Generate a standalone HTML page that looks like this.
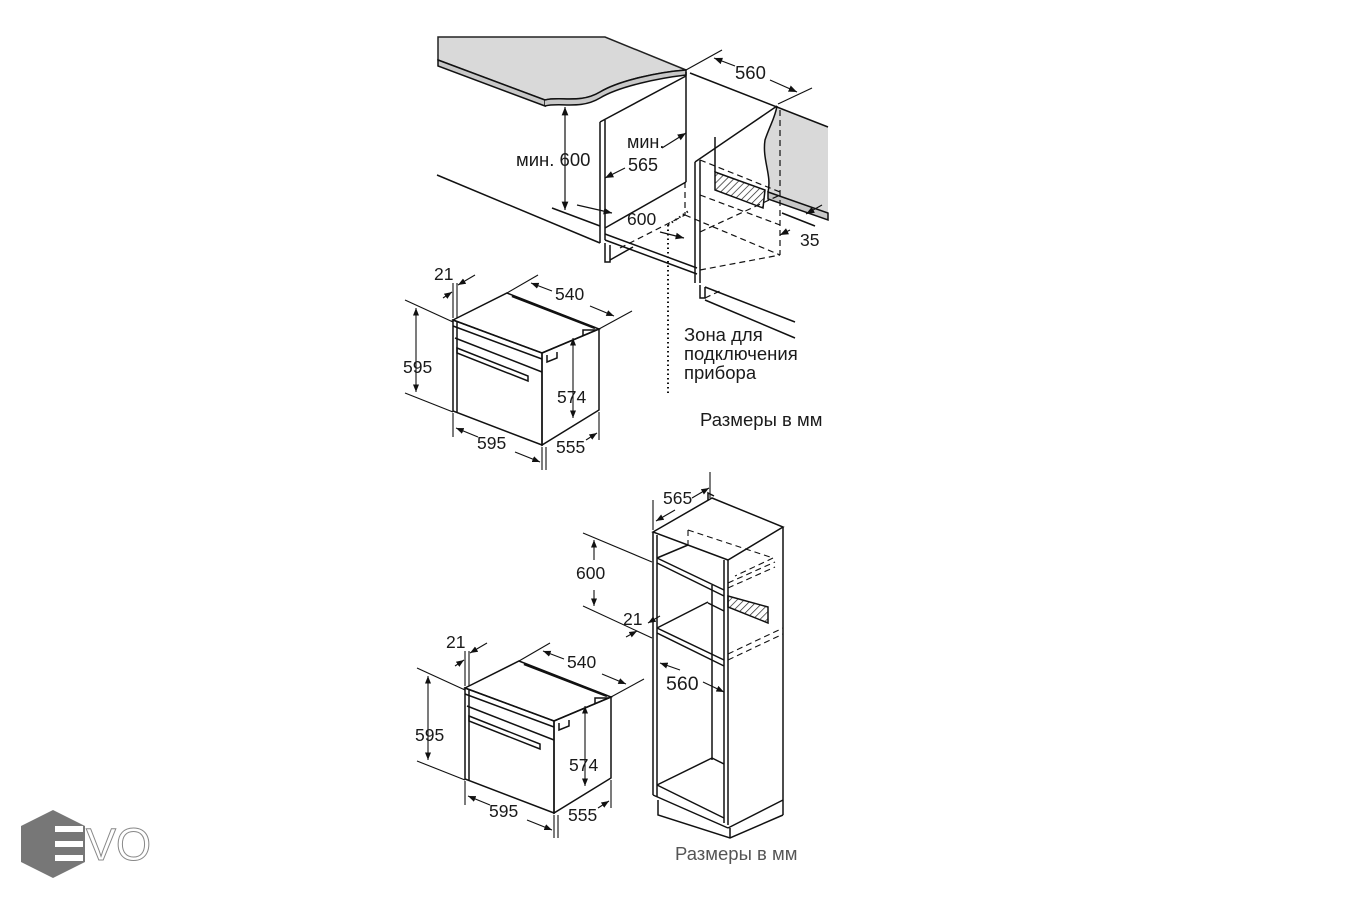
<!DOCTYPE html>
<html><head><meta charset="utf-8"><style>
html,body{margin:0;padding:0;background:#fff;}
svg{display:block;}
text{font-family:"Liberation Sans",sans-serif;fill:#1a1a1a;}
</style></head><body>
<svg width="1350" height="900" viewBox="0 0 1350 900" xmlns="http://www.w3.org/2000/svg">
<defs>
<marker id="a" viewBox="0 0 10 10" refX="10" refY="5" markerWidth="7" markerHeight="7" orient="auto-start-reverse"><path d="M0,1 L10,5 L0,9 z" fill="#111"/></marker>
<pattern id="h" width="5" height="5" patternUnits="userSpaceOnUse" patternTransform="rotate(45)"><line x1="0" y1="0" x2="0" y2="5" stroke="#222" stroke-width="1.4"/></pattern>
</defs>
<g stroke="#111" stroke-width="1.5" fill="none">
<path d="M438,37 L605,37 L686,70 C660,72 620,80 600,92 C580,104 560,96 545,100 L438,60 Z" fill="#d9d9d9" stroke="#222"/>
<path d="M438,60 L545,100 L545,106 L438,66 Z" fill="#c8c8c8"/>
<path d="M545,100 C560,96 580,104 600,92 C620,80 660,72 686,70 L686,75 C660,78 620,86 600,98 C580,110 560,102 545,106" fill="#c8c8c8"/>
<path d="M777,106 L828,127 L828,213 L768,192 C772,175 762,160 765,140 C770,125 775,118 777,106 Z" fill="#d9d9d9" stroke="none"/>
<path d="M768,192 L828,213 L828,220 L768,199 Z" fill="#c8c8c8"/>
<line x1="690" y1="73" x2="828" y2="127"/>
<path d="M777,106 C775,118 770,125 765,140 C762,160 772,175 768,192"/>
<line x1="600" y1="122" x2="600" y2="243"/><line x1="605" y1="120" x2="605" y2="240"/>
<line x1="600" y1="122" x2="686" y2="76"/>
<line x1="686" y1="72" x2="686" y2="182"/>
<line x1="605" y1="228" x2="686" y2="182"/>
<line x1="605" y1="234" x2="697" y2="268"/>
<line x1="605" y1="240" x2="697" y2="274"/>
<line x1="437" y1="175" x2="600" y2="243"/>
<line x1="552" y1="208" x2="600" y2="226"/>
<path d="M605,243 L605,262 L610,262 L610,245"/>
<line x1="610" y1="260" x2="633" y2="247"/>
<line x1="695" y1="162" x2="695" y2="283"/><line x1="700" y1="160" x2="700" y2="283"/>
<line x1="695" y1="162" x2="777" y2="106"/>
<line x1="715" y1="137" x2="715" y2="172"/>
<path d="M715,172 L765,190 L763,208 L715,190 Z" fill="url(#h)"/>
<path d="M700,285 L700,298 L705,298 L705,287"/>
<line x1="705" y1="287" x2="795" y2="322"/>
<line x1="705" y1="300" x2="795" y2="338"/>
<g stroke-dasharray="6,4" stroke-width="1.2">
<line x1="685" y1="182" x2="685" y2="215"/>
<line x1="780" y1="110" x2="780" y2="255"/>
<line x1="685" y1="215" x2="780" y2="255"/>
<line x1="700" y1="160" x2="780" y2="192"/>
<line x1="700" y1="195" x2="780" y2="225"/>
<line x1="620" y1="248" x2="685" y2="215"/>
<line x1="700" y1="232" x2="780" y2="195"/>
<line x1="700" y1="270" x2="780" y2="255"/>
<line x1="705" y1="298" x2="722" y2="290"/>
</g>
<line x1="668" y1="225" x2="668" y2="395" stroke-dasharray="1.5,3" stroke-width="2"/>
<line x1="668" y1="225" x2="690" y2="210" stroke-dasharray="1.5,3" stroke-width="2"/>
<line x1="565" y1="107" x2="565" y2="210" marker-start="url(#a)" marker-end="url(#a)" stroke-width="1.2"/>
<line x1="686" y1="70" x2="722" y2="50" stroke-width="1.2"/>
<line x1="778" y1="104" x2="812" y2="88" stroke-width="1.2"/>
<line x1="714" y1="58" x2="735" y2="66" marker-start="url(#a)" stroke-width="1.2"/>
<line x1="770" y1="80" x2="797" y2="92" marker-end="url(#a)" stroke-width="1.2"/>
<line x1="662" y1="148" x2="686" y2="133" marker-end="url(#a)" stroke-width="1.2"/>
<line x1="625" y1="168" x2="605" y2="178" marker-end="url(#a)" stroke-width="1.2"/>
<line x1="577" y1="205" x2="612" y2="213" marker-end="url(#a)" stroke-width="1.2"/>
<line x1="660" y1="232" x2="684" y2="238" marker-end="url(#a)" stroke-width="1.2"/>
<line x1="782" y1="213" x2="815" y2="226"/>
<line x1="780" y1="235" x2="790" y2="230" marker-start="url(#a)" stroke-width="1.2"/>
<line x1="822" y1="205" x2="806" y2="214" marker-end="url(#a)" stroke-width="1.2"/>
</g>
<text x="516" y="166" font-size="18.5">мин. 600</text>
<text x="627" y="148" font-size="18">мин.</text>
<text x="628" y="171" font-size="18">565</text>
<text x="627" y="225" font-size="17.5">600</text>
<text x="800" y="246" font-size="17.5">35</text>
<text x="735" y="79" font-size="18.5">560</text>
<text x="684" y="341" font-size="18.5">Зона для</text>
<text x="684" y="360" font-size="18.5">подключения</text>
<text x="684" y="379" font-size="18.5">прибора</text>
<text x="700" y="426" font-size="18.5">Размеры в мм</text>

<g id="oven">
<g stroke="#111" stroke-width="1.5" fill="none">
<path d="M453,320 L507,293 L599,329 L542,353 Z"/>
<path d="M542,353 L599,329 L599,410 L542,445 Z"/>
<path d="M453,320 L542,353 L542,445 L453,411 Z"/>
<line x1="457" y1="322" x2="457" y2="412"/>
<line x1="453" y1="326" x2="542" y2="359"/>
<line x1="455" y1="338" x2="542" y2="372"/>
<path d="M457,348 L528,376 L528,381 L457,353 Z"/>
<line x1="512" y1="296" x2="595" y2="328" stroke-width="2.5"/>
<path d="M547,355 L547,362 L557,358 L557,352"/>
<path d="M583,336 L583,330 L596,330"/>
</g>
<g stroke="#111" stroke-width="1.1" fill="none">
<line x1="453" y1="283" x2="453" y2="318"/><line x1="457" y1="283" x2="457" y2="318"/>
<line x1="443" y1="298" x2="452" y2="292" marker-end="url(#a)"/>
<line x1="475" y1="275" x2="458" y2="285" marker-end="url(#a)"/>
<line x1="405" y1="300" x2="453" y2="322"/><line x1="405" y1="393" x2="453" y2="412"/>
<line x1="416" y1="308" x2="416" y2="392" marker-start="url(#a)" marker-end="url(#a)"/>
<line x1="573" y1="338" x2="573" y2="418" marker-start="url(#a)" marker-end="url(#a)"/>
<line x1="507" y1="293" x2="538" y2="275"/><line x1="599" y1="329" x2="632" y2="311"/>
<line x1="531" y1="283" x2="552" y2="291" marker-start="url(#a)"/>
<line x1="590" y1="306" x2="614" y2="316" marker-end="url(#a)"/>
<line x1="453" y1="413" x2="453" y2="437"/><line x1="542" y1="447" x2="542" y2="470"/><line x1="546" y1="447" x2="546" y2="470"/>
<line x1="456" y1="428" x2="478" y2="437" marker-start="url(#a)"/>
<line x1="515" y1="452" x2="540" y2="462" marker-end="url(#a)"/>
<line x1="599" y1="412" x2="599" y2="440"/>
<line x1="586" y1="440" x2="597" y2="433" marker-end="url(#a)"/>
</g>
<text x="434" y="280" font-size="17.5">21</text>
<text x="555" y="300" font-size="17.5">540</text>
<text x="403" y="373" font-size="17.5">595</text>
<text x="557" y="403" font-size="17.5">574</text>
<text x="477" y="449" font-size="17.5">595</text>
<text x="556" y="453" font-size="17.5">555</text>
</g>
<use href="#oven" transform="translate(12,368)"/>

<g stroke="#111" stroke-width="1.5" fill="none">
<path d="M653,532 L712,498 L783,527 L728,560 Z"/>
<line x1="653" y1="532" x2="653" y2="795"/>
<line x1="657" y1="535" x2="657" y2="797"/>
<line x1="728" y1="560" x2="728" y2="825"/>
<line x1="724" y1="560" x2="724" y2="823"/>
<line x1="783" y1="527" x2="783" y2="815"/>
<line x1="653" y1="795" x2="728" y2="828"/>
<line x1="657" y1="785" x2="724" y2="818"/>
<line x1="728" y1="828" x2="783" y2="800"/>
<path d="M658,800 L658,815 L730,838 L783,815"/>
<line x1="730" y1="828" x2="730" y2="838"/>
<path d="M708,500 L708,493 L714,496"/>
<line x1="657" y1="558" x2="724" y2="590"/><line x1="657" y1="563" x2="724" y2="596"/>
<line x1="657" y1="558" x2="688" y2="545"/>
<line x1="657" y1="628" x2="724" y2="660"/><line x1="657" y1="633" x2="724" y2="666"/>
<line x1="657" y1="628" x2="708" y2="602"/>
<line x1="712" y1="585" x2="712" y2="760"/>
<line x1="708" y1="603" x2="724" y2="611"/>
<line x1="657" y1="785" x2="712" y2="758"/>
<line x1="712" y1="758" x2="724" y2="764"/>
<path d="M728,596 L768,607 L768,623 L728,607 Z" fill="url(#h)"/>
</g>
<g stroke="#111" stroke-width="1.1" fill="none" stroke-dasharray="6,4">
<line x1="688" y1="530" x2="773" y2="558"/>
<line x1="773" y1="558" x2="735" y2="576"/>
<line x1="688" y1="530" x2="688" y2="545"/>
<line x1="728" y1="583" x2="775" y2="562"/><line x1="728" y1="588" x2="775" y2="567"/>
<line x1="728" y1="654" x2="783" y2="628"/><line x1="728" y1="660" x2="783" y2="634"/>
</g>
<g stroke="#111" stroke-width="1.1" fill="none">
<line x1="653" y1="500" x2="653" y2="530"/><line x1="710" y1="472" x2="710" y2="498"/>
<line x1="675" y1="510" x2="656" y2="521" marker-end="url(#a)"/>
<line x1="692" y1="498" x2="709" y2="488" marker-end="url(#a)"/>
<line x1="583" y1="533" x2="652" y2="562"/>
<line x1="583" y1="606" x2="652" y2="638"/>
<line x1="594" y1="560" x2="594" y2="540" marker-end="url(#a)"/>
<line x1="594" y1="590" x2="594" y2="606" marker-end="url(#a)"/>
<line x1="626" y1="637" x2="637" y2="631" marker-end="url(#a)"/>
<line x1="660" y1="616" x2="648" y2="623" marker-end="url(#a)"/>
<line x1="680" y1="670" x2="660" y2="663" marker-end="url(#a)"/>
<line x1="703" y1="682" x2="724" y2="692" marker-end="url(#a)"/>
</g>
<text x="663" y="504" font-size="17.5">565</text>
<text x="576" y="579" font-size="17.5">600</text>
<text x="623" y="625" font-size="17.5">21</text>
<text x="666" y="690" font-size="19.5">560</text>
<text x="675" y="860" font-size="18.5" style="fill:#555">Размеры в мм</text>

<polygon points="53,810 85,826 85,862 53,878 21,862 21,826" fill="#777"/>
<g fill="#fff"><rect x="55" y="826" width="28" height="6"/><rect x="55" y="841" width="28" height="6"/><rect x="55" y="855" width="28" height="6"/></g>
<text x="86" y="860" font-size="45" style="fill:#fff;stroke:#888;stroke-width:1">VO</text>
</svg>
</body></html>
